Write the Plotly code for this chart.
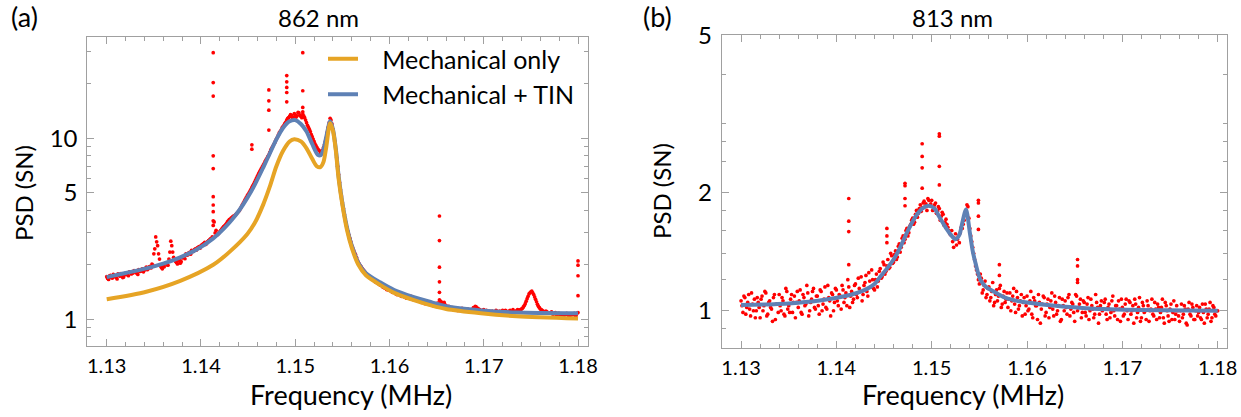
import numpy as np
import plotly.graph_objects as go

W, H = 1241, 417

# ---------------- data : panel (a) 862 nm ----------------
F0, FSTEP = 1.1300, 0.0002
psd_862 = [
    1.72, 1.66, 1.75, 1.69, 1.74, 1.70, 1.78, 1.73, 1.77, 1.71,
    1.80, 1.76, 1.83, 1.78, 1.81, 1.85, 1.80, 1.88, 1.84, 1.90,
    1.87, 1.94, 1.90, 1.96, 2.02, 2.30, 2.85, 2.55, 2.15, 1.93,
    1.98, 2.03, 2.00, 2.15, 2.70, 2.35, 2.12, 2.06, 2.10, 2.04,
    2.18, 2.22, 2.30, 2.27, 2.34, 2.40, 2.37, 2.45, 2.48, 2.52,
    2.55, 2.60, 2.66, 2.62, 2.72, 2.78, 2.85, 3.45, 3.10, 2.95,
    3.05, 3.15, 3.25, 3.32, 3.45, 3.55, 3.62, 3.70, 3.75, 3.85,
    3.95, 4.10, 4.30, 4.50, 4.70, 4.90, 5.10, 5.35, 5.60, 5.90,
    6.20, 6.50, 6.80, 7.10, 7.45, 7.75, 8.10, 8.60, 9.00, 9.40,
    9.90, 10.4, 10.9, 11.4, 11.8, 12.3, 12.9, 13.2, 13.4, 13.1,
    13.5, 13.3, 13.8, 13.2, 13.6, 13.0, 12.2, 11.5, 10.9, 10.2,
    9.60, 9.10, 8.70, 8.50, 8.40, 8.90, 9.60, 10.8, 12.2, 12.6,
    11.2, 9.60, 7.80, 6.30, 5.20, 4.40, 3.80, 3.40, 3.05, 2.80,
    2.55, 2.40, 2.28, 2.12, 2.02, 1.95, 1.88, 1.82, 1.76, 1.74,
    1.70, 1.66, 1.64, 1.60, 1.58, 1.55, 1.53, 1.50, 1.48, 1.47,
    1.45, 1.43, 1.42, 1.40, 1.37, 1.38, 1.35, 1.36, 1.33, 1.31,
    1.33, 1.30, 1.32, 1.28, 1.29, 1.26, 1.27, 1.24, 1.26, 1.22,
    1.24, 1.21, 1.23, 1.19, 1.21, 1.18, 1.22, 1.26, 1.20, 1.24,
    1.19, 1.16, 1.17, 1.14, 1.13, 1.15, 1.12, 1.14, 1.11, 1.13,
    1.14, 1.11, 1.13, 1.10, 1.12, 1.14, 1.17, 1.15, 1.13, 1.11,
    1.13, 1.10, 1.09, 1.11, 1.08, 1.10, 1.09, 1.11, 1.08, 1.10,
    1.12, 1.09, 1.11, 1.10, 1.12, 1.09, 1.11, 1.10, 1.13, 1.12,
    1.14, 1.17, 1.22, 1.30, 1.38, 1.42, 1.40, 1.33, 1.25, 1.18,
    1.14, 1.12, 1.10, 1.11, 1.09, 1.08, 1.10, 1.07, 1.09, 1.06,
    1.08, 1.05, 1.07, 1.06, 1.08, 1.05, 1.07, 1.06, 1.08, 1.05,
    1.09,
]
# second sweep, sampled half a step later
F0B = 1.1301
psd_862_b = [
    1.68, 1.74, 1.70, 1.77, 1.72, 1.67, 1.75, 1.79, 1.70, 1.76,
    1.78, 1.74, 1.82, 1.79, 1.86, 1.81, 1.77, 1.84, 1.89, 1.83,
    1.91, 1.88, 1.95, 1.92, 1.99, 2.45, 2.68, 2.30, 1.97, 1.90,
    1.95, 2.05, 1.99, 2.35, 2.55, 2.20, 2.09, 2.02, 2.14, 2.08,
    2.20, 2.16, 2.26, 2.33, 2.29, 2.38, 2.43, 2.41, 2.50, 2.47,
    2.58, 2.63, 2.59, 2.69, 2.75, 2.80, 3.30, 3.00, 2.92, 3.00,
    3.10, 3.20, 3.28, 3.38, 3.50, 3.58, 3.66, 3.72, 3.80, 3.90,
    4.02, 4.20, 4.40, 4.60, 4.80, 5.00, 5.22, 5.48, 5.75, 6.05,
    6.35, 6.65, 6.95, 7.25, 7.60, 7.95, 8.35, 8.80, 9.20, 9.65,
    10.1, 10.7, 11.1, 11.6, 12.1, 12.6, 13.0, 13.5, 13.0, 13.7,
    13.1, 13.9, 13.4, 13.0, 13.3, 12.6, 11.8, 11.2, 10.5, 9.90,
    9.30, 8.90, 8.60, 8.30, 8.60, 9.20, 10.1, 11.5, 12.9, 12.0,
    10.4, 8.60, 7.00, 5.70, 4.80, 4.10, 3.60, 3.20, 2.92, 2.68,
    2.48, 2.33, 2.20, 2.06, 1.98, 1.91, 1.85, 1.79, 1.73, 1.71,
    1.68, 1.65, 1.61, 1.59, 1.56, 1.54, 1.51, 1.49, 1.46, 1.45,
    1.44, 1.41, 1.43, 1.38, 1.39, 1.36, 1.34, 1.37, 1.32, 1.34,
    1.31, 1.34, 1.29, 1.30, 1.27, 1.28, 1.25, 1.27, 1.23, 1.25,
    1.22, 1.24, 1.20, 1.22, 1.19, 1.23, 1.28, 1.25, 1.22, 1.20,
    1.17, 1.18, 1.15, 1.16, 1.13, 1.14, 1.12, 1.13, 1.15, 1.12,
    1.12, 1.14, 1.11, 1.13, 1.16, 1.18, 1.14, 1.12, 1.10, 1.12,
    1.11, 1.12, 1.10, 1.09, 1.11, 1.08, 1.12, 1.09, 1.11, 1.09,
    1.10, 1.12, 1.08, 1.11, 1.10, 1.13, 1.09, 1.12, 1.11, 1.13,
    1.15, 1.19, 1.26, 1.34, 1.40, 1.43, 1.37, 1.29, 1.21, 1.16,
    1.13, 1.11, 1.09, 1.10, 1.08, 1.09, 1.07, 1.08, 1.06, 1.08,
    1.06, 1.07, 1.05, 1.07, 1.06, 1.04, 1.06, 1.07, 1.05, 1.08,
]
spike_862_f = [1.1413] * 9 + [1.1454] * 2 + [1.1472] * 4 + [1.1491] * 5 + \
              [1.1508] * 4 + [1.1653] * 5 + [1.1800] * 4
spike_862_v = [29.7, 20.3, 17.1, 8.0, 6.8, 4.76, 4.28, 3.93, 3.5,
               9.2, 8.7,
               18.5, 16.1, 14.3, 11.1,
               22.2, 20.5, 19.1, 17.9, 15.9,
               29.7, 18.3, 14.8, 14.0,
               3.72, 2.72, 1.94, 1.61, 1.41,
               2.10, 1.99, 1.74, 1.35]

fit_tin_862_f = [1.1300, 1.1320, 1.1342, 1.1360, 1.1378, 1.1395, 1.1413, 1.1425,
                 1.1433, 1.1441, 1.1449, 1.1457, 1.1466, 1.1473, 1.1480, 1.1487,
                 1.1494, 1.1500, 1.1506, 1.1512, 1.1518, 1.1524, 1.1527, 1.1530,
                 1.1533, 1.1537, 1.1540, 1.1543, 1.1546, 1.1550, 1.1555, 1.1560,
                 1.1567, 1.1575, 1.1590, 1.1605, 1.1625, 1.1645, 1.1660, 1.1697,
                 1.1735, 1.1800]
fit_tin_862 = [1.71, 1.80, 1.91, 2.03, 2.20, 2.42, 2.80, 3.20,
               3.56, 4.03, 4.67, 5.53, 6.89, 8.24, 9.86, 11.4,
               12.4, 12.6, 12.0, 10.9, 9.30, 8.10, 8.05, 8.70,
               10.2, 12.4, 11.2, 8.80, 6.20, 4.40, 3.20, 2.55,
               2.05, 1.80, 1.60, 1.45, 1.33, 1.24, 1.18, 1.12,
               1.09, 1.08]

fit_mech_862_f = [1.1300, 1.1342, 1.1378, 1.1413, 1.1430, 1.1449, 1.1457, 1.1466,
                  1.1473, 1.1480, 1.1487, 1.1494, 1.1499, 1.1506, 1.1512, 1.1518,
                  1.1523, 1.1527, 1.1530, 1.1533, 1.1537, 1.1540, 1.1543, 1.1546,
                  1.1550, 1.1555, 1.1560, 1.1567, 1.1575, 1.1590, 1.1605, 1.1625,
                  1.1645, 1.1660, 1.1697, 1.1735, 1.1800]
fit_mech_862 = [1.29, 1.42, 1.63, 2.00, 2.35, 2.95, 3.40, 4.30,
                5.40, 7.00, 8.50, 9.60, 9.87, 9.60, 8.80, 7.70,
                7.00, 6.95, 7.40, 9.00, 12.1, 11.0, 8.60, 6.00,
                4.30, 3.10, 2.48, 2.00, 1.75, 1.55, 1.40, 1.28,
                1.19, 1.14, 1.08, 1.04, 1.01]

# ---------------- data : panel (b) 813 nm ----------------
psd_813 = [
    1.06, 0.99, 1.08, 1.02, 1.10, 0.97, 1.04, 1.07, 1.00, 1.05,
    0.96, 1.09, 1.03, 1.11, 0.98, 1.06, 1.01, 1.08, 0.95, 1.04,
    1.10, 1.00, 1.06, 0.97, 1.12, 1.03, 1.07, 0.99, 1.09, 1.05,
    1.02, 1.13, 0.98, 1.08, 1.04, 1.11, 1.00, 1.07, 1.14, 1.01,
    1.09, 0.98, 1.12, 1.04, 1.15, 1.01, 1.08, 0.97, 1.10, 1.05,
    1.13, 1.03, 1.09, 1.16, 1.05, 1.11, 1.20, 1.02, 1.12, 1.07,
    1.17, 1.08, 1.14, 1.22, 1.10, 1.18, 1.12, 1.25, 1.15, 1.20,
    1.13, 1.24, 1.19, 1.28, 1.22, 1.31, 1.26, 1.35, 1.29, 1.38,
    1.33, 1.42, 1.37, 1.48, 1.45, 1.55, 1.52, 1.62, 1.58, 1.66,
    1.72, 1.68, 1.80, 1.77, 1.86, 1.83, 1.90, 1.87, 1.93, 1.85,
    1.91, 1.84, 1.88, 1.79, 1.82, 1.74, 1.76, 1.68, 1.66, 1.60,
    1.56, 1.50, 1.53, 1.47, 1.55, 1.58, 1.62, 1.70, 1.78, 1.84,
    1.62, 1.50, 1.40, 1.30, 1.24, 1.17, 1.21, 1.13, 1.19, 1.10,
    1.15, 1.08, 1.18, 1.05, 1.13, 1.09, 1.16, 1.04, 1.12, 1.07,
    1.02, 1.11, 1.06, 1.14, 0.99, 1.08, 1.03, 1.10, 1.05, 0.98,
    1.09, 1.01, 1.12, 0.96, 1.06, 1.03, 1.10, 0.93, 1.04, 1.08,
    0.99, 1.07, 1.02, 1.11, 0.97, 1.05, 1.00, 1.08, 0.95, 1.03,
    1.06, 0.98, 1.10, 1.01, 1.04, 0.94, 1.09, 1.02, 1.07, 0.99,
    1.05, 0.97, 1.08, 1.00, 1.03, 0.96, 1.10, 1.02, 0.98, 1.06,
    1.01, 1.07, 0.95, 1.04, 0.99, 1.09, 0.97, 1.03, 1.06, 0.94,
    1.02, 0.98, 1.07, 0.95, 1.05, 1.00, 0.93, 1.04, 0.99, 1.08,
    0.96, 1.03, 1.00, 1.06, 0.94, 1.01, 0.98, 1.05, 0.95, 1.02,
    0.99, 1.07, 0.93, 1.03, 0.97, 1.01, 0.95, 1.06, 0.98, 1.00,
    0.94, 1.04, 0.98, 1.01, 0.92, 1.05, 0.97, 1.02, 0.95, 1.03,
    0.99, 0.96, 1.04, 0.93, 1.01, 0.98, 1.05, 0.96, 1.02, 0.97,
    1.00,
]
psd_813_b = [
    1.03, 1.09, 0.98, 1.05, 1.01, 1.11, 1.00, 0.96, 1.08, 1.02,
    1.07, 1.00, 1.12, 0.97, 1.05, 1.02, 0.94, 1.10, 1.04, 0.99,
    1.03, 1.08, 0.98, 1.14, 1.01, 0.99, 1.10, 1.05, 0.96, 1.12,
    1.06, 0.99, 1.10, 1.03, 1.16, 0.97, 1.05, 1.12, 1.02, 1.09,
    1.03, 1.13, 1.00, 1.07, 1.02, 1.16, 1.06, 1.11, 1.00, 1.14,
    1.06, 1.10, 1.01, 1.13, 1.08, 1.03, 1.15, 1.09, 1.05, 1.16,
    1.10, 1.21, 1.12, 1.06, 1.16, 1.23, 1.09, 1.19, 1.27, 1.14,
    1.20, 1.15, 1.26, 1.21, 1.33, 1.24, 1.30, 1.28, 1.40, 1.32,
    1.39, 1.35, 1.46, 1.41, 1.53, 1.49, 1.60, 1.55, 1.64, 1.70,
    1.66, 1.76, 1.73, 1.82, 1.79, 1.88, 1.84, 1.80, 1.91, 1.87,
    1.80, 1.86, 1.77, 1.84, 1.70, 1.78, 1.65, 1.71, 1.63, 1.57,
    1.60, 1.45, 1.57, 1.52, 1.49, 1.63, 1.66, 1.75, 1.86, 1.72,
    1.55, 1.45, 1.35, 1.27, 1.20, 1.24, 1.11, 1.16, 1.08, 1.14,
    1.06, 1.12, 1.03, 1.10, 1.06, 1.14, 1.02, 1.09, 1.05, 1.11,
    1.07, 1.00, 1.09, 1.04, 1.12, 1.01, 1.06, 0.97, 1.08, 1.03,
    1.00, 1.06, 0.98, 1.08, 1.03, 0.95, 1.05, 1.01, 1.09, 0.97,
    1.04, 0.96, 1.06, 1.01, 1.09, 0.98, 1.03, 0.94, 1.07, 1.00,
    1.02, 1.08, 0.97, 1.05, 0.99, 1.10, 1.00, 1.04, 0.96, 1.06,
    0.99, 1.04, 0.95, 1.07, 1.01, 0.98, 1.05, 0.93, 1.03, 1.00,
    1.05, 0.98, 1.02, 0.96, 1.06, 1.00, 1.03, 0.95, 1.01, 1.07,
    0.97, 1.04, 1.00, 1.06, 0.98, 1.03, 1.07, 0.96, 1.02, 0.94,
    1.05, 0.99, 0.95, 1.03, 1.00, 1.07, 0.97, 1.01, 1.04, 0.96,
    1.02, 0.96, 1.05, 1.00, 0.94, 1.04, 0.99, 0.95, 1.03, 0.97,
    1.00, 0.96, 1.03, 0.93, 1.01, 0.98, 1.04, 0.95, 1.00, 0.97,
    1.02, 0.95, 0.99, 1.04, 0.96, 1.01, 0.94, 1.03, 0.98, 1.00,
]
spike_813_f = [1.1413] * 4 + [1.1453] * 3 + [1.1472] * 4 + [1.1490] * 4 + \
              [1.1508] * 4 + [1.1549] * 4 + [1.1571] * 2 + [1.1653] * 4
spike_813_v = [1.93, 1.69, 1.59, 1.31,
               1.62, 1.55, 1.49,
               2.11, 2.08, 1.93, 1.85,
               2.66, 2.47, 2.31, 2.05,
               2.82, 2.78, 2.33, 2.09,
               1.91, 1.88, 1.74, 1.61,
               1.31, 1.23,
               1.35, 1.30, 1.20, 1.18]

fit_tin_813_f = [1.1300, 1.1330, 1.1360, 1.1386, 1.1414, 1.1430, 1.1440, 1.1446,
                 1.1453, 1.1460, 1.1467, 1.1474, 1.1484, 1.1490, 1.1497, 1.1503,
                 1.1507, 1.1512, 1.1516, 1.1521, 1.1525, 1.1529, 1.1532, 1.1536,
                 1.1540, 1.1543, 1.1546, 1.1551, 1.1557, 1.1565, 1.1575, 1.1586,
                 1.1600, 1.1630, 1.1666, 1.1720, 1.1800]
fit_tin_813 = [1.035, 1.038, 1.048, 1.065, 1.097, 1.13, 1.17, 1.22,
               1.28, 1.35, 1.45, 1.58, 1.75, 1.82, 1.85, 1.82,
               1.75, 1.67, 1.61, 1.55, 1.52, 1.56, 1.67, 1.81,
               1.58, 1.42, 1.32, 1.20, 1.15, 1.12, 1.085, 1.064,
               1.05, 1.03, 1.014, 1.005, 1.0]

x_ticks = [1.13, 1.14, 1.15, 1.16, 1.17, 1.18]
x_ticktext = ["1.13", "1.14", "1.15", "1.16", "1.17", "1.18"]
y_ticks_a = [1, 5, 10]
y_minor_a = [0.8, 0.9, 2, 3, 4, 6, 7, 8, 9, 20, 30]
y_ticks_b = [1, 2, 5]
y_minor_b = [0.9, 1.2, 1.4, 1.6, 1.8, 2.4, 2.7, 3, 4]

RED = "#FF0000"
BLUE = "#5E81B5"
ORANGE = "#E6A425"
AXC = "#A0A0A0"
FONT = "Lato"

freq_862 = F0 + FSTEP * np.arange(len(psd_862))
freq_862_b = F0B + FSTEP * np.arange(len(psd_862_b))
freq_813 = F0 + FSTEP * np.arange(len(psd_813))
freq_813_b = F0B + FSTEP * np.arange(len(psd_813_b))

fig = go.Figure()
mk = dict(color=RED, size=3.7, line=dict(width=0))
for xs, ys in [(freq_862, psd_862), (freq_862_b, psd_862_b), (spike_862_f, spike_862_v)]:
    fig.add_trace(go.Scatter(x=xs, y=ys, mode="markers", marker=mk,
                             showlegend=False, xaxis="x", yaxis="y"))
fig.add_trace(go.Scatter(x=fit_tin_862_f, y=fit_tin_862, mode="lines",
                         line=dict(color=BLUE, width=4, shape="spline", smoothing=0.8),
                         name="\u00a0\u00a0\u00a0Mechanical + TIN",
                         legendrank=2, legendgroup="b", xaxis="x", yaxis="y"))
fig.add_trace(go.Scatter(x=fit_mech_862_f, y=fit_mech_862, mode="lines",
                         line=dict(color=ORANGE, width=4, shape="spline", smoothing=0.8),
                         name="\u00a0\u00a0\u00a0Mechanical only",
                         legendrank=1, legendgroup="a", xaxis="x", yaxis="y"))

for xs, ys in [(freq_813, psd_813), (freq_813_b, psd_813_b), (spike_813_f, spike_813_v)]:
    fig.add_trace(go.Scatter(x=xs, y=ys, mode="markers", marker=mk,
                             showlegend=False, xaxis="x2", yaxis="y2"))
fig.add_trace(go.Scatter(x=fit_tin_813_f, y=fit_tin_813, mode="lines",
                         line=dict(color=BLUE, width=4, shape="spline", smoothing=0.8),
                         showlegend=False, xaxis="x2", yaxis="y2"))


def px(x):
    return x / W


def py(y):
    return 1 - y / H


common_x = dict(tickmode="array", tickvals=x_ticks, ticktext=x_ticktext,
                ticks="inside", ticklen=7, tickwidth=1, tickcolor=AXC,
                showline=True, linecolor=AXC, linewidth=1, mirror="allticks",
                showgrid=False, zeroline=False, automargin=False,
                tickfont=dict(family=FONT, size=20, color="#000"),
                ticklabelstandoff=2, ticklabeloverflow="allow",
                minor=dict(dtick=0.002, tick0=1.13, ticks="inside", ticklen=4,
                           tickcolor=AXC, tickwidth=1, showgrid=False))
common_y = dict(type="log", tickmode="array",
                ticks="inside", ticklen=7, tickwidth=1, tickcolor=AXC,
                showline=True, linecolor=AXC, linewidth=1, mirror="allticks",
                showgrid=False, zeroline=False, automargin=False,
                tickfont=dict(family=FONT, size=24, color="#000"),
                ticklabelstandoff=4, ticklabeloverflow="allow")

fig.update_layout(
    template="none",
    width=W, height=H,
    margin=dict(l=0, r=0, t=0, b=0, autoexpand=False),
    paper_bgcolor="white", plot_bgcolor="white",
    xaxis=dict(domain=[px(87.3), px(588)], range=[1.12794, 1.18106],
               anchor="y", **common_x),
    yaxis=dict(domain=[py(346), py(36.7)], range=[-0.1475, 1.561],
               anchor="x", tickvals=y_ticks_a, ticktext=["1", "5", "10"],
               minor=dict(tickvals=y_minor_a, ticks="inside", ticklen=4,
                          tickcolor=AXC, tickwidth=1, showgrid=False),
               **common_y),
    xaxis2=dict(domain=[px(721.7), px(1227.3)], range=[1.12797, 1.18101],
                anchor="y2", **common_x),
    yaxis2=dict(domain=[py(348.3), py(35)], range=[-0.0955, 0.7015],
                anchor="x2", tickvals=y_ticks_b, ticktext=["1", "2", "5"],
                minor=dict(tickvals=y_minor_b, ticks="inside", ticklen=4,
                           tickcolor=AXC, tickwidth=1, showgrid=False),
                **common_y),
    legend=dict(x=px(323), y=py(36), xanchor="left", yanchor="top",
                bgcolor="rgba(0,0,0,0)", borderwidth=0,
                font=dict(family=FONT, size=25, color="#000"),
                tracegroupgap=0, itemwidth=30),
    showlegend=True,
)

ann = []


def add_text(text, x, y, size, angle=0, family=FONT):
    ann.append(dict(text=text, x=px(x), y=py(y), xref="paper", yref="paper",
                    xanchor="center", yanchor="middle", showarrow=False,
                    textangle=angle, font=dict(family=family, size=size, color="#000")))


add_text("862 nm", 319, 18, 24)
add_text("813 nm", 952, 18, 24)
add_text("(a)", 24, 17, 27)
add_text("(b)", 657, 17, 27)
add_text("PSD (SN)", 23, 193, 24, angle=-90)
add_text("PSD (SN)", 661, 191, 24, angle=-90)
add_text("Frequency (MHz)", 351, 394, 27)
add_text("Frequency (MHz)", 963, 394, 27)
fig.update_layout(annotations=ann)

fig.write_html(
    "out.html",
    config={"displayModeBar": False},
    post_script="document.body.style.margin='0px';"
                "document.body.style.padding='0px';"
                "document.documentElement.style.overflow='hidden';",
)
